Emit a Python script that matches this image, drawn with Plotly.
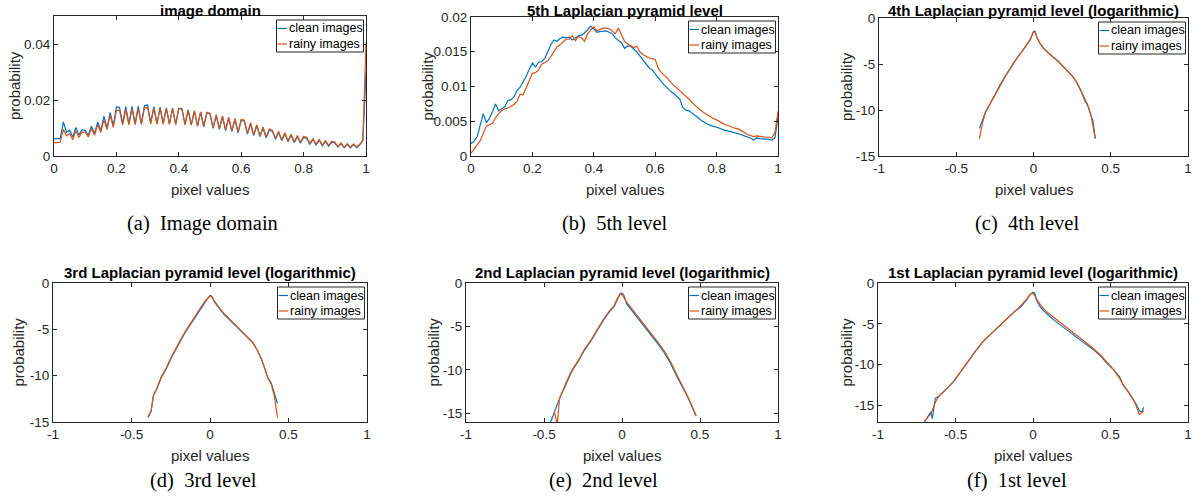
import plotly.graph_objects as go

W, H = 1196, 501

# ---------------- data ----------------
# shared 0..1 histogram bins (panels a and b)
bins_01 = [0.00, 0.01, 0.02, 0.03, 0.04, 0.05, 0.06, 0.07, 0.08, 0.09,
           0.10, 0.11, 0.12, 0.13, 0.14, 0.15, 0.16, 0.17, 0.18, 0.19,
           0.20, 0.21, 0.22, 0.23, 0.24, 0.25, 0.26, 0.27, 0.28, 0.29,
           0.30, 0.31, 0.32, 0.33, 0.34, 0.35, 0.36, 0.37, 0.38, 0.39,
           0.40, 0.41, 0.42, 0.43, 0.44, 0.45, 0.46, 0.47, 0.48, 0.49,
           0.50, 0.51, 0.52, 0.53, 0.54, 0.55, 0.56, 0.57, 0.58, 0.59,
           0.60, 0.61, 0.62, 0.63, 0.64, 0.65, 0.66, 0.67, 0.68, 0.69,
           0.70, 0.71, 0.72, 0.73, 0.74, 0.75, 0.76, 0.77, 0.78, 0.79,
           0.80, 0.81, 0.82, 0.83, 0.84, 0.85, 0.86, 0.87, 0.88, 0.89,
           0.90, 0.91, 0.92, 0.93, 0.94, 0.95, 0.96, 0.97, 0.98, 0.99, 1.00]

# (a) image domain
clean_a = [0.0061, 0.0062, 0.0063, 0.0122, 0.0085, 0.0092, 0.0068, 0.0102, 0.0075, 0.0094,
           0.0091, 0.0074, 0.0106, 0.0080, 0.0122, 0.0090, 0.0142, 0.0100, 0.0156, 0.0108,
           0.0175, 0.0174, 0.0116, 0.0176, 0.0115, 0.0177, 0.0116, 0.0178, 0.0117, 0.0180,
           0.0182, 0.0118, 0.0176, 0.0116, 0.0175, 0.0116, 0.0172, 0.0115, 0.0171, 0.0113,
           0.0170, 0.0169, 0.0112, 0.0165, 0.0110, 0.0161, 0.0107, 0.0157, 0.0104, 0.0154,
           0.0150, 0.0099, 0.0145, 0.0095, 0.0140, 0.0091, 0.0135, 0.0087, 0.0131, 0.0083,
           0.0127, 0.0124, 0.0078, 0.0115, 0.0073, 0.0108, 0.0069, 0.0100, 0.0065, 0.0092,
           0.0088, 0.0060, 0.0084, 0.0055, 0.0079, 0.0051, 0.0074, 0.0048, 0.0069, 0.0046,
           0.0066, 0.0063, 0.0042, 0.0059, 0.0039, 0.0056, 0.0036, 0.0052, 0.0035, 0.0049,
           0.0047, 0.0032, 0.0044, 0.0029, 0.0042, 0.0029, 0.0041, 0.0030, 0.0040, 0.0055,
           0.0300]
rainy_a = [0.0047, 0.0048, 0.0049, 0.0095, 0.0072, 0.0080, 0.0058, 0.0090, 0.0066, 0.0086,
           0.0085, 0.0068, 0.0098, 0.0074, 0.0112, 0.0084, 0.0130, 0.0094, 0.0146, 0.0102,
           0.0163, 0.0164, 0.0111, 0.0166, 0.0111, 0.0168, 0.0112, 0.0169, 0.0113, 0.0171,
           0.0173, 0.0115, 0.0171, 0.0114, 0.0171, 0.0114, 0.0169, 0.0113, 0.0169, 0.0112,
           0.0169, 0.0168, 0.0112, 0.0165, 0.0111, 0.0162, 0.0108, 0.0158, 0.0106, 0.0156,
           0.0152, 0.0101, 0.0148, 0.0098, 0.0143, 0.0094, 0.0139, 0.0090, 0.0134, 0.0086,
           0.0131, 0.0128, 0.0081, 0.0119, 0.0076, 0.0112, 0.0072, 0.0104, 0.0068, 0.0096,
           0.0092, 0.0063, 0.0088, 0.0058, 0.0083, 0.0054, 0.0078, 0.0051, 0.0073, 0.0049,
           0.0070, 0.0067, 0.0045, 0.0062, 0.0042, 0.0059, 0.0039, 0.0055, 0.0038, 0.0052,
           0.0050, 0.0034, 0.0047, 0.0031, 0.0044, 0.0031, 0.0043, 0.0032, 0.0042, 0.0058,
           0.0405]

# (b) 5th Laplacian pyramid level
clean_b = [0.0018, 0.0021, 0.0028, 0.0044, 0.0061, 0.0048, 0.0054, 0.0064, 0.0075, 0.0065,
           0.0068, 0.0071, 0.0080, 0.0081, 0.0085, 0.0094, 0.0099, 0.0106, 0.0115, 0.0125,
           0.0134, 0.0128, 0.0135, 0.0136, 0.0140, 0.0150, 0.0160, 0.0167, 0.0165, 0.0169,
           0.0171, 0.0170, 0.0171, 0.0167, 0.0170, 0.0173, 0.0174, 0.0177, 0.0182, 0.0187,
           0.0183, 0.0178, 0.0179, 0.0179, 0.0180, 0.0178, 0.0176, 0.0170, 0.0166, 0.0163,
           0.0155, 0.0158, 0.0158, 0.0154, 0.0150, 0.0144, 0.0138, 0.0133, 0.0127, 0.0124,
           0.0118, 0.0113, 0.0107, 0.0102, 0.0097, 0.0093, 0.0090, 0.0086, 0.0082, 0.0070,
           0.0066, 0.0065, 0.0062, 0.0059, 0.0055, 0.0051, 0.0048, 0.0046, 0.0044, 0.0043,
           0.0042, 0.0040, 0.0038, 0.0037, 0.0036, 0.0035, 0.0034, 0.0033, 0.0031, 0.0029,
           0.0028, 0.0026, 0.0023, 0.0026, 0.0025, 0.0025, 0.0024, 0.0024, 0.0023, 0.0026,
           0.0056]
rainy_b = [0.0004, 0.0011, 0.0016, 0.0022, 0.0033, 0.0043, 0.0045, 0.0047, 0.0055, 0.0061,
           0.0065, 0.0068, 0.0069, 0.0071, 0.0074, 0.0079, 0.0089, 0.0088, 0.0098, 0.0107,
           0.0119, 0.0120, 0.0124, 0.0132, 0.0134, 0.0137, 0.0143, 0.0151, 0.0157, 0.0160,
           0.0164, 0.0168, 0.0168, 0.0173, 0.0166, 0.0172, 0.0170, 0.0165, 0.0176, 0.0181,
           0.0186, 0.0180, 0.0182, 0.0184, 0.0184, 0.0183, 0.0180, 0.0176, 0.0184, 0.0175,
           0.0165, 0.0161, 0.0158, 0.0156, 0.0158, 0.0150, 0.0146, 0.0143, 0.0141, 0.0140,
           0.0139, 0.0126, 0.0120, 0.0116, 0.0112, 0.0106, 0.0102, 0.0099, 0.0095, 0.0090,
           0.0087, 0.0082, 0.0077, 0.0073, 0.0068, 0.0065, 0.0062, 0.0059, 0.0056, 0.0054,
           0.0052, 0.0049, 0.0047, 0.0045, 0.0043, 0.0041, 0.0040, 0.0039, 0.0037, 0.0034,
           0.0031, 0.0029, 0.0028, 0.0029, 0.0028, 0.0028, 0.0027, 0.0027, 0.0026, 0.0034,
           0.0064]

# (c) 4th level (log probability)
x_c = [-0.35, -0.33, -0.31, -0.28, -0.25, -0.22, -0.19, -0.16, -0.13, -0.10, -0.07, -0.04,
       -0.02, 0.0, 0.01, 0.02, 0.04, 0.07, 0.10, 0.13, 0.16, 0.19, 0.22, 0.25, 0.28, 0.31,
       0.33, 0.35, 0.37, 0.385, 0.40]
clean_c = [-12.0, -11.0, -10.2, -9.3, -8.3, -7.4, -6.5, -5.7, -4.9, -4.2, -3.55, -2.8,
           -2.3, -1.45, -1.45, -2.0, -2.7, -3.4, -3.9, -4.3, -4.7, -5.2, -5.7, -6.3, -7.0, -8.0,
           -8.9, -9.5, -10.5, -11.2, -13.1]
rainy_c = [-13.1, -11.4, -10.2, -9.3, -8.3, -7.4, -6.5, -5.7, -4.9, -4.2, -3.55, -2.85,
           -2.35, -1.5, -1.5, -2.05, -2.7, -3.4, -3.9, -4.3, -4.7, -5.2, -5.7, -6.3, -7.0, -8.0,
           -8.7, -9.4, -10.4, -11.7, -13.1]

# (d) 3rd level
x_d = [-0.395, -0.375, -0.36, -0.34, -0.31, -0.28, -0.25, -0.22, -0.19, -0.16, -0.13, -0.10,
       -0.07, -0.04, -0.02, 0.0, 0.01, 0.03, 0.06, 0.09, 0.12, 0.15, 0.18, 0.21, 0.24, 0.27,
       0.30, 0.33, 0.35, 0.37, 0.39, 0.41, 0.43]
clean_d = [-14.5, -13.8, -12.1, -11.5, -10.2, -9.3, -8.2, -7.2, -6.3, -5.4, -4.6, -3.9,
           -3.1, -2.2, -1.8, -1.35, -1.4, -2.1, -2.8, -3.4, -3.9, -4.4, -4.9, -5.4, -5.9, -6.4,
           -7.2, -8.3, -9.3, -10.3, -10.8, -12.0, -13.0]
rainy_d = [-14.5, -13.8, -12.1, -11.4, -10.1, -9.2, -8.1, -7.1, -6.2, -5.3, -4.5, -3.8,
           -3.0, -2.15, -1.75, -1.4, -1.5, -2.0, -2.7, -3.3, -3.8, -4.3, -4.8, -5.3, -5.8, -6.35,
           -7.2, -8.3, -9.3, -10.3, -10.9, -12.2, -14.5]

# (e) 2nd level
x_e = [-0.47, -0.435, -0.415, -0.40, -0.39, -0.36, -0.32, -0.28, -0.24, -0.20, -0.16, -0.12,
       -0.08, -0.05, -0.03, -0.01, 0.0, 0.01, 0.03, 0.07, 0.11, 0.15, 0.19, 0.23, 0.27, 0.31,
       0.35, 0.39, 0.42, 0.45, 0.475]
clean_e = [-16.6, -14.8, -14.0, -13.3, -12.9, -11.5, -10.1, -9.0, -7.7, -6.7, -5.5, -4.3,
           -3.3, -2.7, -1.9, -1.2, -1.2, -1.3, -2.4, -3.3, -4.2, -5.2, -6.1, -7.0, -8.0, -9.2,
           -10.7, -12.0, -13.1, -14.3, -15.3]
rainy_e = [None, -14.7, -16.3, -13.2, -12.9, -11.5, -10.0, -8.9, -7.6, -6.6, -5.4, -4.2,
           -3.2, -2.6, -1.8, -1.2, -1.4, -1.6, -2.2, -3.1, -4.0, -4.95, -5.9, -6.8, -7.8, -9.0,
           -10.5, -11.9, -13.0, -14.2, -15.3]

# (f) 1st level
x_f = [-0.70, -0.68, -0.66, -0.65, -0.63, -0.61, -0.58, -0.55, -0.51, -0.47, -0.42, -0.37,
       -0.32, -0.27, -0.22, -0.17, -0.12, -0.08, -0.04, -0.015, 0.0, 0.01, 0.025, 0.05, 0.09,
       0.14, 0.20, 0.26, 0.32, 0.38, 0.44, 0.48, 0.52, 0.56, 0.58, 0.61, 0.64, 0.665, 0.685,
       0.70, 0.715]
clean_f = [-17.0, -16.4, -15.8, -16.6, -14.1, -13.9, -13.4, -12.8, -12.0, -10.9, -9.6, -8.3,
           -7.1, -6.25, -5.3, -4.4, -3.5, -2.95, -2.05, -1.3, -1.15, -1.2, -2.2, -3.0, -3.8,
           -4.6, -5.5, -6.3, -7.2, -8.0, -9.0, -9.9, -10.6, -11.5, -12.4, -13.2, -14.0, -14.8,
           -15.6, -15.8, -15.2]
rainy_f = [-16.9, -16.5, -16.0, -15.6, -14.6, -13.9, -13.4, -12.8, -12.0, -10.9, -9.6, -8.3,
           -7.1, -6.2, -5.25, -4.3, -3.4, -2.8, -1.95, -1.3, -1.3, -1.5, -2.05, -2.7, -3.55,
           -4.3, -5.2, -6.0, -6.95, -7.85, -8.9, -9.8, -10.6, -11.7, -12.4, -13.2, -14.0, -15.0,
           -16.1, -15.9, -15.6]

series_names = ["clean images", "rainy images"]
xt_01 = [0, 0.2, 0.4, 0.6, 0.8, 1]
xtl_01 = ["0", "0.2", "0.4", "0.6", "0.8", "1"]
xt_pm1 = [-1, -0.5, 0, 0.5, 1]
xtl_pm1 = ["-1", "-0.5", "0", "0.5", "1"]
yt_log = [-15, -10, -5, 0]
ytl_log = ["-15", "-10", "-5", "0"]

titles = ["image domain", "5th Laplacian pyramid level",
          "4th Laplacian pyramid level (logarithmic)",
          "3rd Laplacian pyramid level (logarithmic)",
          "2nd Laplacian pyramid level (logarithmic)",
          "1st Laplacian pyramid level (logarithmic)"]
captions = ["(a)  Image domain", "(b)  5th level", "(c)  4th level",
            "(d)  3rd level", "(e)  2nd level", "(f)  1st level"]

# ---------------- layout geometry (pixels) ----------------
panels = [
    dict(box=(54, 16, 366, 156), x=bins_01, c=clean_a, r=rainy_a, xr=[0, 1], yr=[0, 0.05],
         xt=xt_01, xtl=xtl_01, yt=[0, 0.02, 0.04], ytl=["0", "0.02", "0.04"],
         ylab_x=15, cap=(202, 223)),
    dict(box=(471, 17, 778, 156), x=bins_01, c=clean_b, r=rainy_b, xr=[0, 1], yr=[0, 0.02],
         xt=xt_01, xtl=xtl_01, yt=[0, 0.005, 0.01, 0.015, 0.02],
         ytl=["0", "0.005", "0.01", "0.015", "0.02"], ylab_x=427, cap=(615, 223)),
    dict(box=(879, 18, 1188, 156), x=x_c, c=clean_c, r=rainy_c, xr=[-1, 1], yr=[-15, 0],
         xt=xt_pm1, xtl=xtl_pm1, yt=yt_log, ytl=ytl_log, ylab_x=846, cap=(1027, 223)),
    dict(box=(53, 283, 367, 422), x=x_d, c=clean_d, r=rainy_d, xr=[-1, 1], yr=[-15, 0],
         xt=xt_pm1, xtl=xtl_pm1, yt=yt_log, ytl=ytl_log, ylab_x=18, cap=(203, 480)),
    dict(box=(466, 283, 778, 422), x=x_e, c=clean_e, r=rainy_e, xr=[-1, 1], yr=[-16, 0],
         xt=xt_pm1, xtl=xtl_pm1, yt=yt_log, ytl=ytl_log, ylab_x=433, cap=(603, 480)),
    dict(box=(878, 283, 1188, 422), x=x_f, c=clean_f, r=rainy_f, xr=[-1, 1], yr=[-17, 0],
         xt=xt_pm1, xtl=xtl_pm1, yt=yt_log, ytl=ytl_log, ylab_x=846, cap=(1017, 480)),
]

BLUE = "#0072BD"
ORANGE = "#D95319"
AXC = "#262626"
SANS = "Liberation Sans, Arial, sans-serif"
SERIF = "Liberation Serif, Times New Roman, serif"


def fx(p):
    return p / W


def fy(p):
    return 1 - p / H


fig = go.Figure()
layout = dict(width=W, height=H, autosize=False, margin=dict(l=0, r=0, t=0, b=0, pad=0),
              paper_bgcolor="white", plot_bgcolor="white", showlegend=False)
annotations = []
shapes = []

for i, p in enumerate(panels):
    k = "" if i == 0 else str(i + 1)
    l, t, r, b = p["box"]
    for yv, col, nm in ((p["c"], BLUE, series_names[0]), (p["r"], ORANGE, series_names[1])):
        fig.add_trace(go.Scatter(x=p["x"], y=yv, mode="lines", name=nm,
                                 line=dict(color=col, width=1.2),
                                 xaxis="x" + k, yaxis="y" + k, showlegend=False))
    common = dict(showline=True, linecolor=AXC, linewidth=1, mirror="ticks", ticks="inside",
                  ticklen=4, tickcolor=AXC, tickwidth=1, showgrid=False, zeroline=False,
                  automargin=False,
                  tickfont=dict(family=SANS, size=13.5, color=AXC), tickmode="array")
    layout["xaxis" + k] = dict(domain=[fx(l), fx(r)], anchor="y" + k, range=p["xr"],
                               tickvals=p["xt"], ticktext=p["xtl"], **common)
    layout["yaxis" + k] = dict(domain=[fy(b), fy(t)], anchor="x" + k, range=p["yr"],
                               tickvals=p["yt"], ticktext=p["ytl"], **common)
    cx = (l + r) / 2
    # title (top row: anchored at the very top edge so it stays fully visible)
    if t < 100:
        ty, tanchor = 1.0, "top"
    else:
        ty, tanchor = fy(t - 10.5), "middle"
    annotations.append(dict(text="<b>" + titles[i] + "</b>", x=fx(cx), y=ty,
                            xref="paper", yref="paper", xanchor="center", yanchor=tanchor,
                            showarrow=False, font=dict(family=SANS, size=15, color="black")))
    # x label
    annotations.append(dict(text="pixel values", x=fx(cx), y=fy(b + 33),
                            xref="paper", yref="paper", xanchor="center", yanchor="middle",
                            showarrow=False, font=dict(family=SANS, size=15, color=AXC)))
    # y label
    annotations.append(dict(text="probability", x=fx(p["ylab_x"]), y=fy((t + b) / 2),
                            xref="paper", yref="paper", xanchor="center", yanchor="middle",
                            textangle=-90, showarrow=False,
                            font=dict(family=SANS, size=15, color=AXC)))
    # caption
    annotations.append(dict(text=captions[i], x=fx(p["cap"][0]), y=fy(p["cap"][1]),
                            xref="paper", yref="paper", xanchor="center", yanchor="middle",
                            showarrow=False, font=dict(family=SERIF, size=20.5, color="black")))
    # legend (MATLAB style box, inside top-right)
    lr = r - 2.5
    ll = lr - 87
    lt = t + 4
    lb = lt + 32
    shapes.append(dict(type="rect", xref="paper", yref="paper", x0=fx(ll), x1=fx(lr),
                       y0=fy(lb), y1=fy(lt), line=dict(color=AXC, width=1),
                       fillcolor="white", layer="above"))
    for j, (nm, col) in enumerate(zip(series_names, (BLUE, ORANGE))):
        yy = lt + 8.5 + j * 15.5
        shapes.append(dict(type="line", xref="paper", yref="paper", x0=fx(ll + 1),
                           x1=fx(ll + 10.5), y0=fy(yy), y1=fy(yy),
                           line=dict(color=col, width=1.2), layer="above"))
        annotations.append(dict(text=nm, x=fx(ll + 10.5), y=fy(yy), xref="paper",
                                yref="paper", xanchor="left", yanchor="middle",
                                showarrow=False,
                                font=dict(family=SANS, size=12.5, color="black")))

layout["annotations"] = annotations
layout["shapes"] = shapes
fig.update_layout(**layout)
fig.write_html("out.html", config={"displayModeBar": False},
               post_script="document.body.style.margin='0';"
                           "document.body.style.overflow='hidden';")
